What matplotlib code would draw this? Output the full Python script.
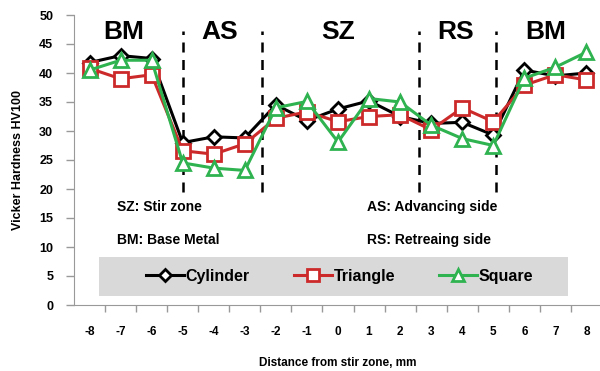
import matplotlib
matplotlib.use('Agg')
import matplotlib.pyplot as plt
from matplotlib.patches import Rectangle

plt.rcParams['font.family'] = ['Liberation Sans', 'DejaVu Sans']
plt.rcParams['font.weight'] = 'bold'
plt.rcParams['axes.unicode_minus'] = False

distance = [-8, -7, -6, -5, -4, -3, -2, -1, 0, 1, 2, 3, 4, 5, 6, 7, 8]
cylinder = [41.8, 43.0, 42.5, 28.0, 29.0, 28.8, 34.5, 31.8, 33.8, 35.2, 32.5, 31.3, 31.5, 29.3, 40.5, 39.5, 40.0]
triangle = [40.8, 39.0, 39.7, 26.6, 26.0, 27.8, 32.2, 33.3, 31.6, 32.5, 32.8, 30.2, 34.0, 31.6, 37.9, 39.7, 38.8]
square = [40.5, 42.2, 42.2, 24.5, 23.6, 23.2, 34.0, 35.1, 28.1, 35.6, 35.0, 31.0, 28.7, 27.5, 39.1, 41.0, 43.6]

zone_names = ['BM', 'AS', 'SZ', 'RS', 'BM']
zone_x = [-6.9, -3.8, 0.0, 3.8, 6.7]
bounds = [-5.0, -2.45, 2.6, 5.1]

gray = '#999999'
red = '#cc2a2a'
green = '#2fb350'

fig = plt.figure(figsize=(6.0, 3.71), dpi=100)
ax = fig.add_axes([74 / 600, 66 / 371, 528 / 600, 290 / 371])

ax.plot(distance, cylinder, color='black', lw=2.2, marker='D', ms=7.5,
        mfc='white', mec='black', mew=2, label='Cylinder', zorder=3)
ax.plot(distance, triangle, color=red, lw=2.2, marker='s', ms=9.5,
        mfc='white', mec=red, mew=2, label='Triangle', zorder=4)
ax.plot(distance, square, color=green, lw=2.2, marker='^', ms=10,
        mfc='white', mec=green, mew=2, label='Square', zorder=5)

# zone boundaries
for b in bounds:
    ax.plot([b, b], [19.5, 47.3], color='black', lw=1.8, ls=(0, (4, 3)), zorder=2)

for name, x in zip(zone_names, zone_x):
    ax.text(x, 47.0, name, fontsize=19, fontweight='bold', ha='center', va='center')

ax.text(-7.13, 16.9, 'SZ: Stir zone', fontsize=10, ha='left', va='center')
ax.text(-7.13, 11.2, 'BM: Base Metal', fontsize=10, ha='left', va='center')
ax.text(0.92, 16.9, 'AS: Advancing side', fontsize=10, ha='left', va='center')
ax.text(0.92, 11.2, 'RS: Retreaing side', fontsize=10, ha='left', va='center')

# gray band behind the legend
ax.add_patch(Rectangle((-7.71, 1.55), 15.13, 6.75, facecolor='#d9d9d9',
                       edgecolor='none', zorder=1))
ax.legend(loc='center', bbox_to_anchor=(0.503, 0.098), ncol=3, frameon=False,
          handlelength=2.4, handletextpad=0.1, columnspacing=2.75, markerscale=0.85,
          prop={'weight': 'bold', 'size': 11.5})

ax.set_xlim(-8.5, 8.5)
ax.set_ylim(0, 50)
ax.set_yticks(range(0, 51, 5))
ax.set_xticks(distance)
ax.set_xticks([d + 0.5 for d in distance[:-1]], minor=True)
ax.tick_params(axis='x', which='major', length=0, pad=15, labelsize=8.5)
ax.tick_params(axis='x', which='minor', length=5, color=gray, width=1)
ax.tick_params(axis='y', length=6, color=gray, width=1, labelsize=9, pad=9)
for lab in ax.get_xticklabels() + ax.get_yticklabels():
    lab.set_fontweight('bold')

ax.spines['top'].set_visible(False)
ax.spines['right'].set_visible(False)
ax.spines['left'].set_color(gray)
ax.spines['bottom'].set_color(gray)

ax.set_xlabel('Distance from stir zone, mm', fontsize=8.5, fontweight='bold', labelpad=14)
ax.set_ylabel('Vicker Hardness HV100', fontsize=9, fontweight='bold', labelpad=11)

fig.savefig('out.png', dpi=100)
